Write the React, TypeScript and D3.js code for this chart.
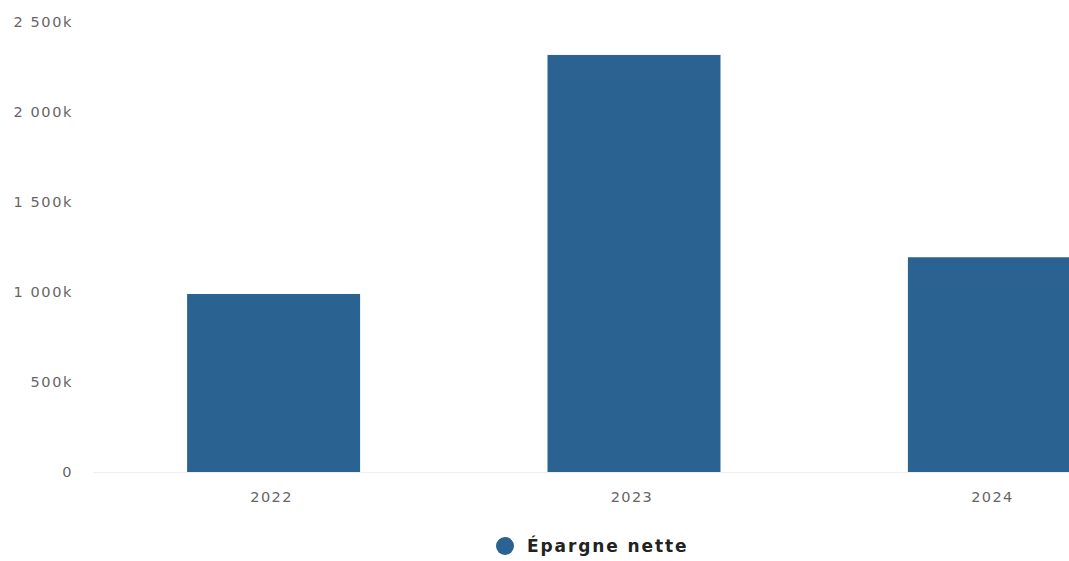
import React from "react";
import * as d3 from "d3";

const categories = ["2022", "2023", "2024"];
const seriesName = "Épargne nette";
const values = [989000, 2317000, 1193000];
const yTicks = [0, 500000, 1000000, 1500000, 2000000, 2500000];

const W = 1069;
const H = 561;
const barColor = "#2a6292";

const locale = d3.formatLocale({ decimal: ",", thousands: " ", grouping: [3], currency: ["", "€"] });
const fmtK = (v: number) => (v === 0 ? "0" : locale.format(",.0f")(v / 1000) + "k");

export default function App() {
  const x = d3.scaleBand<string>().domain(categories).range([93.4, 1174.6]).paddingInner(0.52).paddingOuter(0.26);
  const y = d3.scaleLinear().domain([0, 2500000]).range([472, 22]);
  return (
    <svg width={W} height={H} style={{ position: "absolute", left: 0, top: 0, background: "#fff" }}>
      <rect x={0} y={0} width={W} height={H} fill="#fff" />
      <line x1={93} x2={W} y1={y(0) + 0.5} y2={y(0) + 0.5} stroke="#f0f0f0" strokeWidth={1} />
      {yTicks.map((t) => (
        <text key={t} x={73} y={y(t)} dy="0.35em" textAnchor="end" fill="#666" fontFamily="DejaVu Sans" fontSize={14.5} letterSpacing={1.6}>
          {fmtK(t)}
        </text>
      ))}
      {categories.map((c, i) => (
        <rect key={c} x={x(c)} y={y(values[i])} width={x.bandwidth()} height={y(0) - y(values[i])} fill={barColor} />
      ))}
      {categories.map((c) => (
        <text key={c} x={(x(c) as number) + x.bandwidth() / 2 - 2} y={497} dy="0.35em" textAnchor="middle" fill="#666" fontFamily="DejaVu Sans" fontSize={14.5} letterSpacing={1.4}>
          {c}
        </text>
      ))}
      <circle cx={505} cy={546} r={9} fill={barColor} />
      <text x={527} y={546} dy="0.35em" fill="#222" fontFamily="DejaVu Sans" fontWeight="bold" fontSize={17} letterSpacing={1.9}>
        {seriesName}
      </text>
    </svg>
  );
}
